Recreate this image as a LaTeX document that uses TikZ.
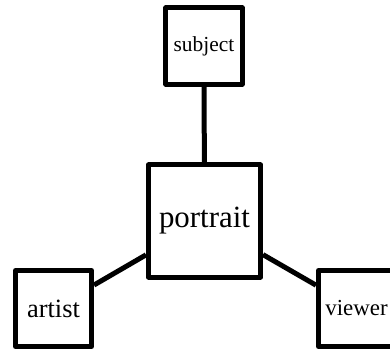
\documentclass[tikz,border=0pt]{standalone}
\usepackage{fontspec}
\setmainfont{Liberation Serif}
\begin{document}
\begin{tikzpicture}[x=1bp, y=1bp,
  box/.style={draw, line width=5bp, line join=round, fill=white,
    inner sep=0pt, minimum size=#1},
  link/.style={line width=5bp}]

  \useasboundingbox (0,0) rectangle (390,350); %% page size

  \node[box=112bp, font=\fontsize{31}{31}\selectfont]
    (portrait) at (204.5,129) {portrait};
  \node[box=76bp, font=\fontsize{21.5}{21.5}\selectfont]
    (subject) at (204,304) {subject};
  \node[box=76bp, font=\fontsize{26.5}{26.5}\selectfont]
    (artist) at (53.5,41.5) {artist};
  \node[box=76bp, font=\fontsize{23}{23}\selectfont]
    (viewer) at (356.5,41.5) {viewer};

  \draw[link] (subject) -- (portrait);
  \draw[link] (artist) -- (portrait);
  \draw[link] (viewer) -- (portrait);

\end{tikzpicture}
\end{document}
